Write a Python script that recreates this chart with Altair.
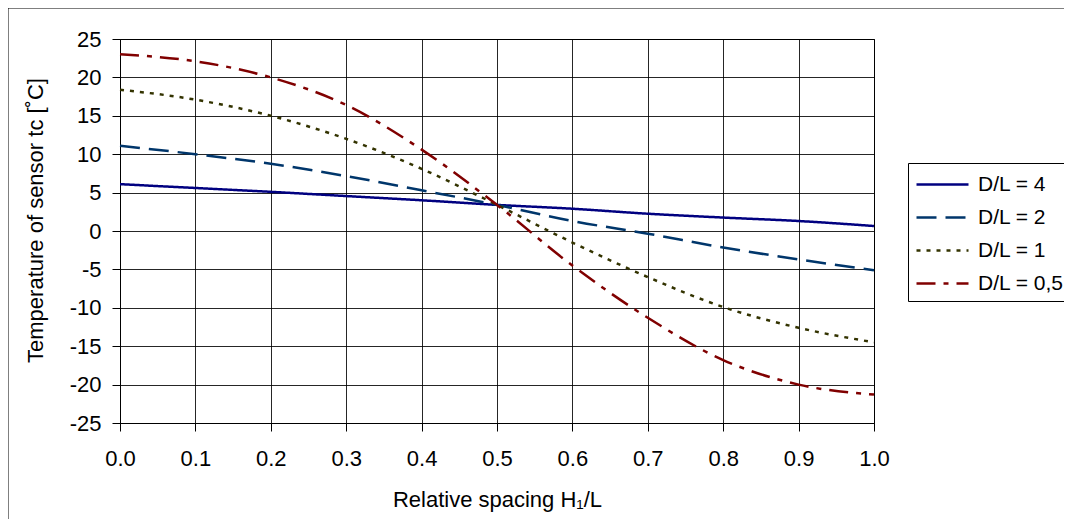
import altair as alt
import pandas as pd

# ---- data ----
spacing = [0.0, 0.1, 0.2, 0.3, 0.4, 0.5, 0.6, 0.7, 0.8, 0.9, 1.0]
dl_4 = [6.1, 5.6, 5.1, 4.55, 4.0, 3.4, 2.9, 2.25, 1.75, 1.3, 0.65]
dl_2 = [11.1, 10.0, 8.75, 7.15, 5.3, 3.4, 1.3, -0.35, -2.15, -3.7, -5.1]
dl_1 = [18.4, 17.1, 15.0, 12.0, 8.1, 3.4, -1.5, -6.0, -9.9, -12.6, -14.5]
dl_05 = [23.0, 22.1, 20.0, 16.4, 10.6, 3.4, -4.5, -11.3, -16.8, -20.0, -21.3]

series_names = ["D/L = 4", "D/L = 2", "D/L = 1", "D/L = 0,5"]
series_values = [dl_4, dl_2, dl_1, dl_05]
series_colors = ["#000080", "#00366b", "#333300", "#800000"]
series_dashes = [[1, 0], [20, 9], [4, 6], [19, 8, 5, 8]]

y_ticks = [-25, -20, -15, -10, -5, 0, 5, 10, 15, 20, 25]
x_ticks = [0.0, 0.1, 0.2, 0.3, 0.4, 0.5, 0.6, 0.7, 0.8, 0.9, 1.0]

rows = []
for name, vals in zip(series_names, series_values):
    for x, v in zip(spacing, vals):
        rows.append({"x": x, "t": v, "series": name})
df = pd.DataFrame(rows)

FONT = "Liberation Sans"
FS = 22

lines = alt.Chart(df).mark_line(strokeWidth=2.5, interpolate="monotone").encode(
    x=alt.X("x:Q",
            scale=alt.Scale(domain=[0, 1], nice=False),
            axis=alt.Axis(values=x_ticks, format=".1f", title="Relative spacing  H₁/L",
                          labelFlush=False, labelPadding=17, titlePadding=20)),
    y=alt.Y("t:Q",
            scale=alt.Scale(domain=[-25, 25], nice=False),
            axis=alt.Axis(values=y_ticks, labelExpr="'' + datum.value",
                          title="Temperature of sensor  tc [˚C]", labelFlush=False,
                          labelPadding=11, titlePadding=22, titleY=181)),
    color=alt.Color("series:N",
                    scale=alt.Scale(domain=series_names, range=series_colors),
                    legend=alt.Legend(title=None)),
    strokeDash=alt.StrokeDash("series:N",
                              scale=alt.Scale(domain=series_names, range=series_dashes),
                              legend=alt.Legend(title=None)),
    order=alt.Order("x:Q"),
)

border = alt.Chart(pd.DataFrame({"a": [0]})).mark_rect(
    fill=None, stroke="black", strokeWidth=1, clip=False
).encode(
    x=alt.value(-112), x2=alt.value(1200),
    y=alt.value(-31), y2=alt.value(700),
)

chart = alt.layer(border, lines).properties(
    width=754, height=384,
    padding={"left": 112, "top": 31, "right": 190, "bottom": 96},
    autosize=alt.AutoSizeParams(type="none"),
    background="white",
).configure_view(
    stroke="black", strokeWidth=1
).configure_axis(
    grid=True, gridColor="#000000", gridWidth=1, gridOpacity=0.85,
    domainColor="#000000", domainWidth=1,
    tickColor="#000000", tickSize=8, tickWidth=1,
    labelFont=FONT, labelFontSize=FS, labelColor="#000000",
    titleFont=FONT, titleFontSize=FS, titleColor="#000000", titleFontWeight="normal",
).configure_legend(
    orient="none", legendX=788, legendY=124,
    strokeColor="#000000", fillColor="white", padding=7,
    symbolType="M-1,0H3", symbolSize=676, symbolStrokeWidth=2.5,
    labelOffset=34, labelFont=FONT, labelFontSize=21, labelColor="#000000",
    rowPadding=8, cornerRadius=0,
)

chart.save("out.html", embed_options={"renderer": "svg", "actions": False})
